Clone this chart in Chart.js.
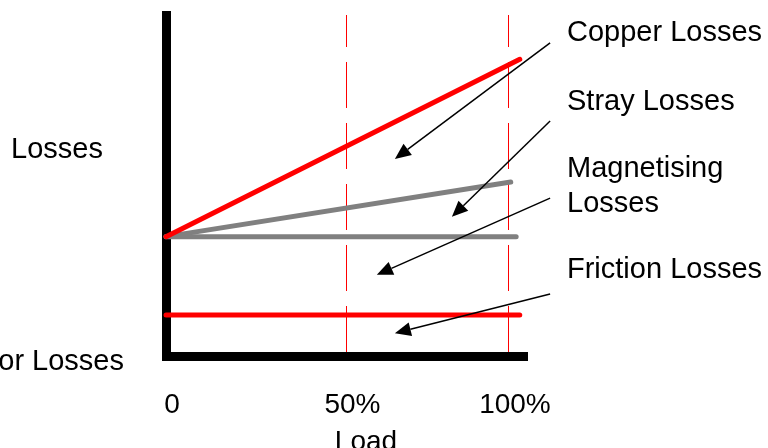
<!DOCTYPE html>
<html>
<head>
<meta charset="utf-8">
<script src="https://cdn.jsdelivr.net/npm/chart.js@4"></script>
<style>
  body { margin: 0; background: #fff; }
  #box { width: 768px; height: 448px; }
</style>
</head>
<body>
<div id="box"><canvas id="myChart"></canvas></div>
<script>
// x = load position on the sketch, y = losses (arbitrary units)
const loadTicks = [0, 50, 95];
const loadLabels = ['0', '50%', '100%'];

const copperLoad = [0, 98];
const copperLoss = [35, 87];
const strayLoad = [0, 95.5];
const strayLoss = [35, 51];
const magnetLoad = [0, 97];
const magnetLoss = [35, 35];
const frictionLoad = [0, 98];
const frictionLoss = [12, 12];

// arrows pointing from the labels into the areas (data units)
const arrowTail = [[106.4, 91.8], [106.4, 68.9], [106.4, 46.3], [106.4, 18.2]];
const arrowTip = [[63.4, 57.8], [79.2, 40.8], [58.4, 23.8], [63.4, 6.7]];

const FONT = '"Liberation Sans", Arial, sans-serif';

function pts(xs, ys) {
  return xs.map((v, i) => ({ x: v, y: ys[i] }));
}

function line(label, xs, ys, color) {
  return {
    label: label,
    data: pts(xs, ys),
    borderColor: color,
    borderWidth: 5,
    borderCapStyle: 'round',
    pointRadius: 0,
    fill: false,
    clip: false
  };
}

// labels and arrows drawn on top of the chart
const notes = {
  id: 'notes',
  afterDraw(chart) {
    const { ctx, scales: { x, y } } = chart;
    ctx.save();
    ctx.strokeStyle = '#000';
    ctx.fillStyle = '#000';
    ctx.lineWidth = 1.5;
    arrowTail.forEach((t, i) => {
      const x0 = x.getPixelForValue(t[0]), y0 = y.getPixelForValue(t[1]);
      const x1 = x.getPixelForValue(arrowTip[i][0]), y1 = y.getPixelForValue(arrowTip[i][1]);
      const a = Math.atan2(y1 - y0, x1 - x0);
      const L = 16, W = 7;
      const bx = x1 - L * Math.cos(a), by = y1 - L * Math.sin(a);
      ctx.beginPath();
      ctx.moveTo(x0, y0);
      ctx.lineTo(bx, by);
      ctx.stroke();
      ctx.beginPath();
      ctx.moveTo(x1, y1);
      ctx.lineTo(bx + W * Math.sin(a), by - W * Math.cos(a));
      ctx.lineTo(bx - W * Math.sin(a), by + W * Math.cos(a));
      ctx.closePath();
      ctx.fill();
    });

    ctx.font = '29px ' + FONT;
    ctx.textBaseline = 'alphabetic';
    ctx.textAlign = 'left';
    ctx.fillText('Copper Losses', 567, 41);
    ctx.fillText('Stray Losses', 567, 110);
    ctx.fillText('Magnetising', 567, 177);
    ctx.fillText('Losses', 567, 212);
    ctx.fillText('Friction Losses', 567, 278);
    ctx.fillText('Losses', 11, 158);
    ctx.textAlign = 'right';
    ctx.fillText('Motor Losses', 124, 370);
    ctx.font = '28px ' + FONT;
    ctx.textAlign = 'center';
    ctx.fillText('Load', 366, 450);
    ctx.restore();
  }
};

const ctx = document.getElementById('myChart');
const myChart = new Chart(ctx, {
  type: 'line',
  data: {
    datasets: [
      line('Copper Losses', copperLoad, copperLoss, '#ff0000'),
      line('Stray Losses', strayLoad, strayLoss, '#808080'),
      line('Magnetising Losses', magnetLoad, magnetLoss, '#808080'),
      line('Friction Losses', frictionLoad, frictionLoss, '#ff0000')
    ]
  },
  options: {
    responsive: true,
    maintainAspectRatio: false,
    animation: false,
    layout: { padding: { left: 166, right: 241, top: 15, bottom: 0 } },
    plugins: {
      legend: { display: false },
      tooltip: { enabled: false }
    },
    scales: {
      x: {
        type: 'linear',
        min: 0,
        max: 100,
        afterBuildTicks: s => { s.ticks = loadTicks.map(v => ({ value: v })); },
        afterFit: s => { s.height = 92; },
        ticks: {
          autoSkip: false,
          maxRotation: 0,
          padding: 35,
          labelOffset: 6,
          color: '#000',
          font: { family: FONT, size: 28, lineHeight: 1 },
          callback: v => loadLabels[loadTicks.indexOf(v)]
        },
        grid: {
          drawTicks: false,
          lineWidth: 1,
          color: c => (c.tick && c.tick.value === 0) ? 'rgba(0,0,0,0)' : '#ff0000'
        },
        border: { display: true, color: '#000', width: 9, dash: [46, 15], dashOffset: 14 }
      },
      y: {
        type: 'linear',
        min: 0,
        max: 100,
        afterFit: s => { s.width = 0; },
        ticks: { display: false },
        grid: { display: false, drawTicks: false },
        border: { display: true, color: '#000', width: 9 }
      }
    }
  },
  plugins: [notes]
});
</script>
</body>
</html>
